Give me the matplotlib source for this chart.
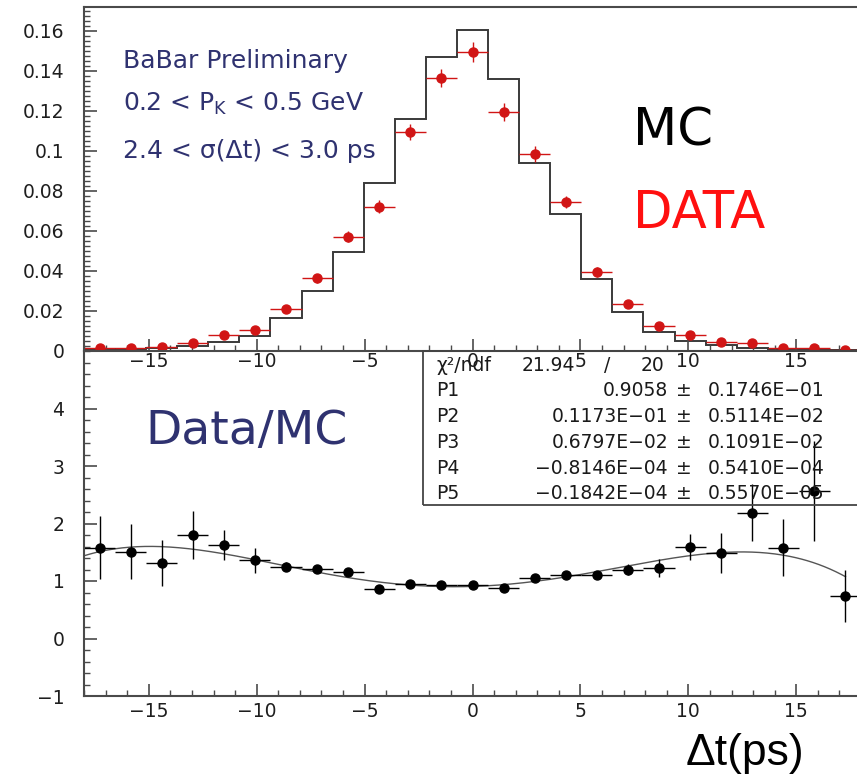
import numpy as np
import matplotlib.pyplot as plt
from matplotlib.patches import Rectangle
from matplotlib.ticker import MultipleLocator, FixedLocator

W, H = 857, 779

# binning of delta t (ps)
dt_lo, dt_hi, n_bins = -18.0, 18.0, 25
bin_edges = np.linspace(dt_lo, dt_hi, n_bins + 1)
centers = 0.5 * (bin_edges[:-1] + bin_edges[1:])
half_width = 0.5 * (bin_edges[1] - bin_edges[0])

# top panel: MC histogram and data points
mc = [0.0008, 0.0010, 0.0017, 0.0023, 0.0047, 0.0077, 0.0167, 0.0300, 0.0497,
      0.0842, 0.1160, 0.1468, 0.1605, 0.1360, 0.0938, 0.0683, 0.0358, 0.0197,
      0.0097, 0.0050, 0.0029, 0.0017, 0.0010, 0.0005, 0.0005]
data = [0.0013, 0.0015, 0.0022, 0.0042, 0.0080, 0.0105, 0.0208, 0.0363, 0.0572,
        0.0722, 0.1093, 0.1363, 0.1493, 0.1193, 0.0985, 0.0745, 0.0393, 0.0233,
        0.0123, 0.0080, 0.0043, 0.0038, 0.0016, 0.0013, 0.0004]
data_err = [0.0008, 0.0008, 0.0009, 0.0010, 0.0012, 0.0013, 0.0018, 0.0022, 0.0028,
            0.0032, 0.0040, 0.0045, 0.0050, 0.0045, 0.0038, 0.0032, 0.0025, 0.0020,
            0.0015, 0.0012, 0.0010, 0.0010, 0.0008, 0.0008, 0.0005]

# bottom panel: ratio data/MC
ratio = [1.58, 1.51, 1.31, 1.80, 1.62, 1.36, 1.25, 1.21, 1.16, 0.86, 0.95, 0.93,
         0.93, 0.88, 1.06, 1.10, 1.10, 1.20, 1.23, 1.59, 1.49, 2.19, 1.58, 2.56, 0.74]
ratio_err = [0.55, 0.48, 0.40, 0.42, 0.26, 0.22, 0.08, 0.05, 0.04, 0.03, 0.03, 0.03,
             0.03, 0.03, 0.03, 0.04, 0.05, 0.10, 0.16, 0.22, 0.35, 0.50, 0.49, 0.87, 0.45]

# pol4 fit parameters P1..P5 and errors
fit_params = [0.9058, 0.1173e-01, 0.6797e-02, -0.8146e-04, -0.1842e-04]
fit_errs = ["0.1746E\u221201", "0.5114E\u221202", "0.1091E\u221202",
            "0.5410E\u221204", "0.5570E\u221205"]
fit_vals = ["0.9058", "0.1173E\u221201", "0.6797E\u221202",
            "\u22120.8146E\u221204", "\u22120.1842E\u221204"]
chi2, ndf = "21.94", "20"

NAVY = "#2f3270"
AXC = "#4a4a4a"


def fx(px):
    return px / W


def fy(py):
    return 1 - py / H


fig = plt.figure(figsize=(W / 100, H / 100), dpi=100)
plt.rcParams['font.family'] = ['DejaVu Sans']

ax1 = fig.add_axes([fx(84), fy(351), 777 / W, 344 / H])
ax2 = fig.add_axes([fx(84), fy(696), 777 / W, 345 / H])
ax2.set_facecolor('none')

# top panel
ax1.stairs(mc, bin_edges, color='#3a3a3a', lw=1.4)
ax1.errorbar(centers, data, yerr=data_err, xerr=half_width, fmt='o',
             color='#d11515', ms=6.5, elinewidth=1.0, capsize=0)
ax1.set_xlim(dt_lo, dt_hi)
ax1.set_ylim(0, 0.172)
ax1.yaxis.set_major_locator(FixedLocator([0, 0.02, 0.04, 0.06, 0.08, 0.1, 0.12, 0.14, 0.16]))
ax1.set_yticklabels(["0", "0.02", "0.04", "0.06", "0.08", "0.1", "0.12", "0.14", "0.16"])
ax1.yaxis.set_minor_locator(MultipleLocator(0.0025))

# bottom panel
xs = np.linspace(dt_lo, centers[-1], 400)
ax2.plot(xs, np.polyval(fit_params[::-1], xs), color='#555555', lw=1.0)
ax2.errorbar(centers, ratio, yerr=ratio_err, xerr=half_width, fmt='o',
             color='black', ms=6.5, elinewidth=1.0, capsize=0)
ax2.set_xlim(dt_lo, dt_hi)
ax2.set_ylim(-1, 5)
ax2.yaxis.set_major_locator(FixedLocator([-1, 0, 1, 2, 3, 4]))
ax2.yaxis.set_minor_locator(MultipleLocator(0.2))

for ax in (ax1, ax2):
    ax.xaxis.set_major_locator(MultipleLocator(5))
    ax.xaxis.set_minor_locator(MultipleLocator(1))
    ax.tick_params(which='major', direction='in', length=9, width=1.2, color=AXC,
                   labelsize=13.5, labelcolor='#1e1e1e', pad=4)
    ax.tick_params(which='minor', direction='in', length=4.5, width=1.0, color=AXC)
    ax.tick_params(axis='y', pad=14)
    for s in ax.spines.values():
        s.set_color(AXC)
        s.set_linewidth(1.5)
    ax.spines['right'].set_visible(False)
ax1.tick_params(axis='x', pad=1)
ax2.spines['top'].set_visible(False)

# stats box
fig.add_artist(Rectangle((fx(423), fy(505)), (W - 423) / W + 0.01, 154 / H,
                         transform=fig.transFigure, fill=False,
                         edgecolor='#444444', lw=1.3))
rows = [365, 391, 417, 443, 468, 493]
sfont = dict(fontsize=13.5, color='#1a1a1a', va='center')
fig.text(fx(436), fy(rows[0]), "\u03c7\u00b2/ndf", ha='left', **sfont)
fig.text(fx(575), fy(rows[0]), chi2, ha='right', **sfont)
fig.text(fx(607), fy(rows[0]), "/", ha='center', **sfont)
fig.text(fx(664), fy(rows[0]), ndf, ha='right', **sfont)
for i in range(5):
    y = fy(rows[i + 1])
    fig.text(fx(436), y, f"P{i + 1}", ha='left', **sfont)
    fig.text(fx(668), y, fit_vals[i], ha='right', **sfont)
    fig.text(fx(684), y, "\u00b1", ha='center', **sfont)
    fig.text(fx(708), y, fit_errs[i], ha='left', **sfont)

# annotations
fig.text(fx(123), fy(68), "BaBar Preliminary", fontsize=18, color=NAVY)
fig.text(fx(123), fy(111), r"0.2 < P$_{\mathregular{K}}$ < 0.5 GeV", fontsize=18, color=NAVY)
fig.text(fx(123), fy(158), "2.4 < \u03c3(\u0394t) < 3.0 ps", fontsize=18, color=NAVY)
fig.text(fx(633), fy(145), "MC", fontsize=37, color='black')
fig.text(fx(633), fy(228), "DATA", fontsize=37, color='#ff1010')
fig.text(fx(145), fy(444), "Data/MC", fontsize=34, color=NAVY)
fig.text(fx(745), fy(754), "\u0394t(ps)", fontsize=32, color='black',
         family=['Liberation Sans', 'DejaVu Sans'], ha='center', va='center')

fig.savefig("out.png", dpi=100)
